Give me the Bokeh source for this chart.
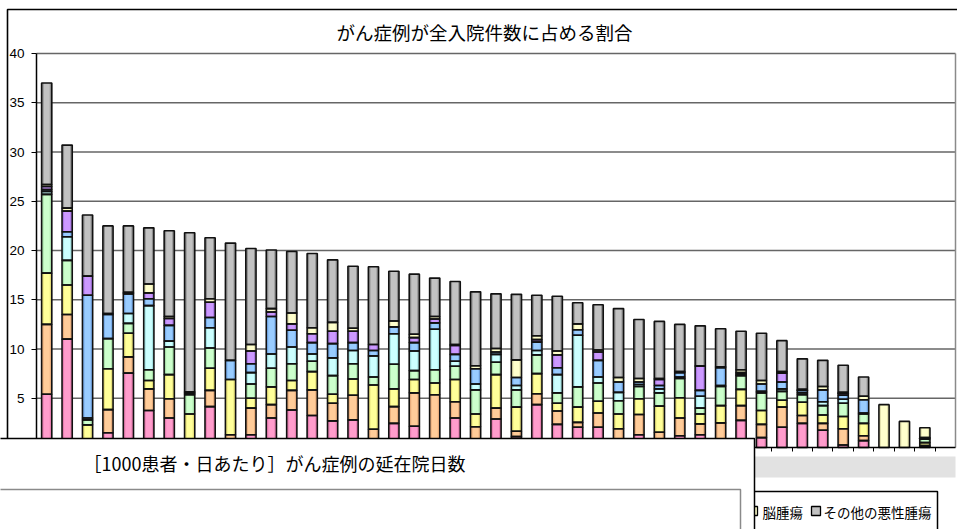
import numpy as np
from bokeh.plotting import figure
from bokeh.models import ColumnDataSource, Range1d, FixedTicker, BoxAnnotation, Label
from bokeh.embed import file_html
from bokeh.resources import INLINE

JP = "Noto Sans CJK JP"

# hospitals, in descending order of total share (%)
bar_no = list(range(1, 45))

series_names = ["胃癌", "大腸癌", "肝癌", "肺癌", "乳癌", "白血病", "悪性リンパ腫", "脳腫瘍", "その他の悪性腫瘍"]

stomach = [5.4, 11.0, 0.2, 1.5, 7.55, 3.75, 3.0, 0, 4.15, 0, 1.3, 3.0, 3.8, 3.25, 2.7, 2.8, 0, 2.45, 2.15, 0,
           3.0, 0, 2.9, 1.1, 4.35, 2.35, 2.05, 2.05, 0, 1.3, 0, 1.2, 1.3, 0.3, 2.75, 1.0, 2.05, 2.45, 1.75, 0.25,
           0.7, 0, 0, 0.1]
colon = [7.1, 2.5, 0.2, 2.35, 1.65, 2.2, 1.95, 0, 1.65, 1.3, 2.7, 1.35, 2.0, 2.6, 1.8, 2.5, 1.85, 1.7, 3.4, 5.35,
         1.65, 2.1, 1.1, 0.55, 1.1, 1.35, 0.5, 1.45, 1.9, 2.05, 1.55, 1.8, 1.1, 2.2, 1.5, 1.35, 2.05, 0.8, 0.7, 1.65,
         0.5, 0, 0, 0.1]
liver = [5.2, 3.0, 1.9, 4.15, 2.4, 0.85, 2.45, 3.4, 2.25, 5.6, 1.0, 1.8, 1.0, 1.85, 0.9, 1.65, 4.5, 1.8, 1.35, 1.2,
         2.25, 1.3, 3.4, 2.45, 2.05, 0.8, 1.55, 1.2, 1.5, 1.6, 2.65, 2.05, 1.0, 1.75, 1.65, 1.4, 0.7, 1.35, 0.85, 1.25,
         1.25, 0, 0, 0.3]
lung = [8.0, 2.5, 0.5, 3.05, 1.0, 1.1, 2.8, 1.95, 2.05, 0, 1.45, 1.9, 1.7, 1.05, 1.9, 1.55, 0.8, 2.5, 0.9, 1.35,
        1.35, 2.45, 1.25, 1.75, 1.9, 1.05, 2.05, 1.85, 1.35, 1.25, 1.35, 1.95, 0.6, 1.95, 1.4, 1.8, 0.9, 0.75, 0.95, 1.35,
        0.95, 0, 0, 0.35]
breast = [0.3, 2.4, 0.2, 0, 1.0, 6.5, 0.6, 0.1, 2.05, 0, 1.15, 1.45, 1.7, 0.75, 1.8, 1.35, 2.15, 3.1, 2.0, 4.1,
          0.5, 0.6, 0.8, 0.45, 0.45, 1.85, 5.25, 0.6, 0.85, 0.2, 0.4, 0.15, 1.2, 0.1, 0.15, 0.15, 0.25, 0.2, 0.4, 0.4,
          0.1, 0, 0, 0.1]
leukemia = [0.2, 0.5, 12.45, 2.45, 2.0, 0.7, 1.6, 0.1, 1.05, 1.95, 0.9, 3.8, 1.7, 1.15, 1.45, 0.8, 0.55, 0.7, 0.85, 0.65,
            0.7, 1.55, 0.25, 0.8, 0.85, 0.7, 0.55, 1.7, 1.05, 0.25, 0.35, 0.45, 0.6, 1.8, 0.15, 0.75, 0.7, 0.25, 1.2, 0.4,
            1.35, 0, 0, 0.05]
lymphoma = [0.3, 2.1, 1.95, 0, 0, 0.6, 0.7, 0, 1.55, 0, 1.3, 0.45, 0.65, 0.9, 1.25, 1.15, 0.6, 0, 0.5, 0.4,
            0.9, 0, 0, 0, 0.25, 1.3, 0, 0.85, 0, 0, 0.6, 0, 2.45, 0, 0, 0, 0.9, 0, 0, 0.2,
            0, 0, 0, 0]
brain = [0.2, 0.3, 0, 0.1, 0.15, 0.9, 0.2, 0.1, 0.35, 0, 0.65, 0.35, 1.1, 0.6, 0.9, 0.3, 0, 0.6, 0.35, 0.25,
         0.1, 0.3, 0.35, 1.8, 0.4, 0.4, 0.6, 0.2, 0.45, 0.35, 0.1, 0.1, 0.05, 0.1, 0.3, 0.35, 0.15, 0.1, 0.35, 0.1,
         0.35, 4.35, 2.65, 1.0]
other = [10.3, 6.4, 6.2, 8.9, 6.75, 5.7, 8.7, 16.15, 6.2, 11.9, 9.75, 5.95, 6.25, 7.55, 6.35, 6.3, 7.9, 5.05, 6.1, 3.9,
         6.4, 7.5, 5.55, 6.65, 4.1, 5.55, 2.15, 4.6, 7.0, 6.0, 5.8, 4.8, 4.05, 3.85, 3.9, 4.8, 3.15, 3.1, 2.65, 2.75,
         1.95, 0, 0, 0]

series_values = [stomach, colon, liver, lung, breast, leukemia, lymphoma, brain, other]

# lighter centre / darker edge of each shaded bar segment
face_colors = ["#ff9ccc", "#ffcc99", "#ffff99", "#ccffcc", "#ccffff", "#99ccff", "#cc99ff", "#ffffcc", "#c2c2c2"]
edge_colors = ["#e67fb0", "#e8ad7c", "#e4de78", "#a9e0a9", "#a6e2e2", "#78acea", "#ab7ae4", "#e2e0ac", "#8e8e8e"]

y_ticks = [5, 10, 15, 20, 25, 30, 35, 40]
y_max = 40
n_slots = len(bar_no) + 1

# stacked segments in long form
seg = dict(x=[], bottom=[], top=[], face=[], edge=[], series=[])
base = np.zeros(len(bar_no))
for name, vals, fc, ec in zip(series_names, series_values, face_colors, edge_colors):
    vals = np.asarray(vals, dtype=float)
    for i, v in enumerate(vals):
        if v > 0:
            seg["x"].append(bar_no[i])
            seg["bottom"].append(base[i])
            seg["top"].append(base[i] + v)
            seg["face"].append(fc)
            seg["edge"].append(ec)
            seg["series"].append(name)
    base += vals
src = ColumnDataSource(seg)

# canvas size and plot-area box (pixels from the top-left corner)
W, H = 957, 529
L, R, T, B = 36, 955, 53, 447
x_lo, x_hi = 0.5, 0.5 + n_slots
ppx = (R - L) / (x_hi - x_lo)
ppy = (B - T) / y_max

p = figure(width=W, height=H, output_backend="svg", toolbar_location=None, title=None,
           x_range=Range1d(x_lo - L / ppx, x_hi + (W - R) / ppx),
           y_range=Range1d(-(H - B) / ppy, y_max + T / ppy),
           min_border=0, min_border_left=0, min_border_right=0, min_border_top=0, min_border_bottom=0,
           background_fill_color="white", border_fill_color="white")
p.outline_line_color = None
p.grid.visible = False

# axes drawn at the edges of the plot area
p.yaxis.fixed_location = x_lo
p.yaxis.bounds = (0, y_max)
p.yaxis.ticker = FixedTicker(ticks=y_ticks)
p.yaxis.major_tick_out = 5
p.yaxis.major_tick_in = 0
p.yaxis.minor_tick_line_color = None
p.yaxis.major_label_standoff = 7
p.yaxis.axis_line_color = "black"
p.yaxis.axis_line_width = 1.5
p.yaxis.major_tick_line_color = "black"
p.yaxis.major_label_text_font = "Liberation Sans"
p.yaxis.major_label_text_font_size = "13.5px"
p.yaxis.major_label_text_color = "black"

p.xaxis.fixed_location = 0
p.xaxis.bounds = (x_lo, x_hi)
p.xaxis.ticker = FixedTicker(ticks=[n + 0.5 for n in bar_no])
p.xaxis.major_tick_out = 4
p.xaxis.major_tick_in = 0
p.xaxis.minor_tick_line_color = None
p.xaxis.axis_line_color = "black"
p.xaxis.axis_line_width = 1.5
p.xaxis.major_tick_line_color = "black"
p.xaxis.major_label_text_color = None

# horizontal gridlines and the top/right border of the plot area
p.segment(x0=x_lo, x1=x_hi, y0=y_ticks, y1=y_ticks, line_color="#666666", line_width=1.3)
p.segment(x0=x_hi, x1=x_hi, y0=0, y1=y_max, line_color="#8a8a8a", line_width=1.5)

# shaded bar segments: dark edge, light centre, black outline
p.vbar(x="x", width=0.5, bottom="bottom", top="top", source=src, fill_color="edge", line_color=None)
p.vbar(x="x", width=0.3, bottom="bottom", top="top", source=src, fill_color="face", line_color=None)
p.vbar(x="x", width=0.5, bottom="bottom", top="top", source=src, fill_color=None,
       line_color="#111111", line_width=1.6)


def sy(cy):
    return H - cy


def box(left, top, right, bottom, line_color="black", line_width=1.5, **kw):
    return BoxAnnotation(left=left, right=right, top=sy(top), bottom=sy(bottom),
                         left_units="screen", right_units="screen", top_units="screen", bottom_units="screen",
                         line_color=line_color, line_width=line_width, line_alpha=1, line_dash="solid",
                         level="overlay", **kw)


def text(x, y, s, size, align="left"):
    return Label(x=x, y=sy(y), x_units="screen", y_units="screen", text=s, text_font=JP,
                 text_font_size=size, text_align=align, text_baseline="middle", text_color="black",
                 level="overlay")


# chart area border and title
p.add_layout(box(7, 9, W + 4, H + 40, fill_color=None, line_width=1.6))
p.add_layout(text(484, 31, "がん症例が全入院件数に占める割合", "18.5px", align="center"))

# category label strip
p.add_layout(box(740, 456, 955, 477, fill_color="#e2e2e2", fill_alpha=1, line_color=None))

# legend
p.add_layout(box(600, 491, 937, H + 40, fill_color="white", fill_alpha=1))
p.add_layout(box(748, 506, 757, 515, fill_color=face_colors[7], fill_alpha=1, line_width=1.3))
p.add_layout(text(762, 511, series_names[7], "13.5px"))
p.add_layout(box(811, 506, 820, 515, fill_color=face_colors[8], fill_alpha=1, line_width=1.3))
p.add_layout(text(823, 511, series_names[8], "13.5px"))

# second chart panel lying over the lower part
p.add_layout(box(-30, 438, 754, H + 40, fill_color="white", fill_alpha=1))
p.add_layout(box(-30, 489, 740, H + 40, fill_color=None, line_color="#8a8a8a"))
p.add_layout(text(274, 462, "［1000患者・日あたり］がん症例の延在院日数", "18px", align="center"))

open("out.html", "w").write(file_html(p, INLINE))
